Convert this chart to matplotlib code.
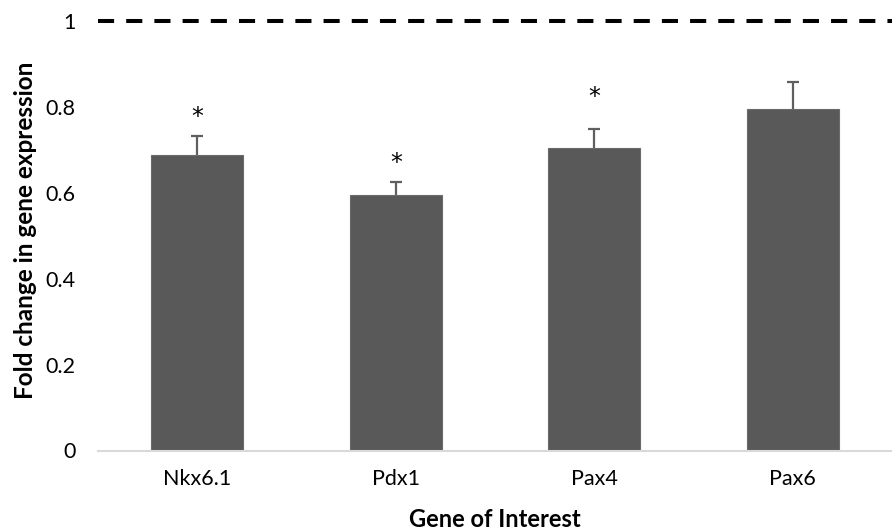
import numpy as np
import matplotlib.pyplot as plt

genes = ['Nkx6.1', 'Pdx1', 'Pax4', 'Pax6']
fold_change = [0.688, 0.595, 0.705, 0.794]
sem = [0.044, 0.030, 0.044, 0.065]
significant = [True, True, True, False]
y_ticks = [0, 0.2, 0.4, 0.6, 0.8, 1]
y_tick_labels = ['0', '0.2', '0.4', '0.6', '0.8', '1']
control_level = 1.0

plt.rcParams['font.family'] = ['Lato', 'DejaVu Sans']

fig = plt.figure(figsize=(8.92, 5.30), dpi=100)
ax = fig.add_axes([0.1099, 0.150, 0.8901, 0.8104])

x = np.arange(len(genes))
bar_color = '#595959'
ax.bar(x, fold_change, width=0.465, color=bar_color, edgecolor='#6a6a6a',
       linewidth=0.8, zorder=2)

# upper-only error bars: stem from bar top plus a cap
tops = np.array(fold_change) + np.array(sem)
cap_half = 0.03
ax.vlines(x, fold_change, tops, color='#5f5f5f', linewidth=1.6, zorder=3)
ax.hlines(tops, x - cap_half, x + cap_half, color='#5f5f5f', linewidth=1.6, zorder=3)

# significance markers above the caps
star_offset = [19, 19, 32, 19]
for i, (top, sig) in enumerate(zip(tops, significant)):
    if sig:
        ax.annotate('*', xy=(x[i], top), xytext=(0, star_offset[i]),
                    textcoords='offset pixels', ha='center', va='center',
                    fontsize=17, color='black', family='DejaVu Sans')

# control reference line
ax.axhline(control_level, color='black', linewidth=2.9, linestyle=(0, (4.0, 3.0)),
           clip_on=False, zorder=4)

ax.set_xlim(-0.5, len(genes) - 0.5)
ax.set_ylim(0, 1)
ax.set_xticks(x)
ax.set_xticklabels(genes)
ax.set_yticks(y_ticks)
ax.set_yticklabels(y_tick_labels)
ax.tick_params(axis='both', length=0, labelsize=15.5, colors='black')
ax.tick_params(axis='x', pad=13)
ax.tick_params(axis='y', pad=16)

for side in ['top', 'right', 'left']:
    ax.spines[side].set_visible(False)
ax.spines['bottom'].set_color('#d9d9d9')
ax.spines['bottom'].set_linewidth(1.5)

fig.text(0.029, 0.565, 'Fold change in gene expression', rotation=90,
         ha='center', va='center', fontsize=17.5, fontweight='bold')
fig.text(0.555, 0.020, 'Gene of Interest', ha='center', va='center',
         fontsize=17, fontweight='bold')

fig.savefig('out.png', dpi=100)
